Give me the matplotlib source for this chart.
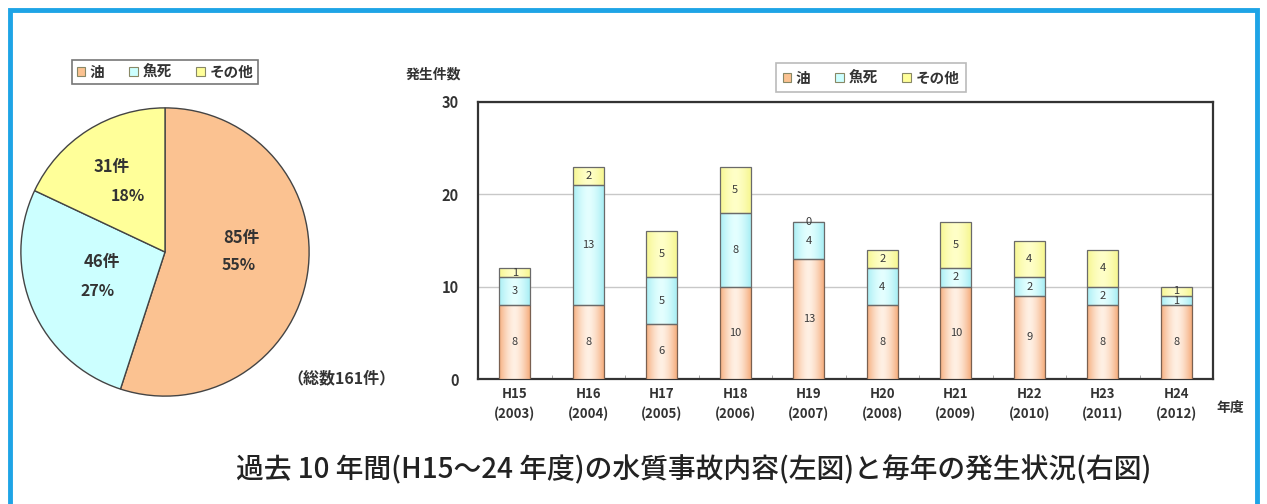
import numpy as np
import matplotlib
matplotlib.use("Agg")
import matplotlib.pyplot as plt
from matplotlib.patches import Patch, Rectangle
from matplotlib.colors import to_rgb

plt.rcParams['font.family'] = ['Noto Sans CJK JP', 'DejaVu Sans']

# --- data -------------------------------------------------------------
pie_labels = ["油", "魚死", "その他"]
pie_counts = [85, 46, 31]
pie_pcts = [55, 27, 18]
total_label = "（総数161件）"

years = ["H15\n(2003)", "H16\n(2004)", "H17\n(2005)", "H18\n(2006)", "H19\n(2007)",
         "H20\n(2008)", "H21\n(2009)", "H22\n(2010)", "H23\n(2011)", "H24\n(2012)"]
oil = [8, 8, 6, 10, 13, 8, 10, 9, 8, 8]
fish = [3, 13, 5, 8, 4, 4, 2, 2, 2, 1]
other = [1, 2, 5, 5, 0, 2, 5, 4, 4, 1]
yticks = [0, 10, 20, 30]

title = "過去 10 年間(H15～24 年度)の水質事故内容(左図)と毎年の発生状況(右図)"

# --- styling ----------------------------------------------------------
c_oil, c_fish, c_other = "#FBC291", "#CCFFFF", "#FFFF99"
txt = "#333333"

W, H = 1267, 504
fig = plt.figure(figsize=(W / 100, H / 100), dpi=100)
fig.patch.set_facecolor("white")

# blue frame around the whole panel
fig.add_artist(Rectangle((10 / W, -0.05), (1257 - 10) / W, 1 - 10 / H + 0.05,
                         transform=fig.transFigure, fill=False,
                         edgecolor="#1EA4E6", linewidth=3.5, clip_on=False))

# --- pie --------------------------------------------------------------
axp = fig.add_axes([18 / W, 1 - 399 / H, 294 / W, 294 / H])
wedges, _ = axp.pie(pie_pcts, colors=[c_oil, c_fish, c_other], startangle=90,
                    counterclock=False,
                    wedgeprops=dict(edgecolor="#444444", linewidth=1.0))
axp.set_xlim(-1.02, 1.02)
axp.set_ylim(-1.02, 1.02)
axp.set_aspect("equal")
axp.axis("off")

pie_text_pos = [((0.53, 0.10), (0.51, -0.09)),
                ((-0.44, -0.07), (-0.47, -0.27)),
                ((-0.37, 0.59), (-0.26, 0.39))]
for (p1, p2), n, p in zip(pie_text_pos, pie_counts, pie_pcts):
    axp.text(*p1, f"{n}件", ha="center", va="center", fontsize=12,
             fontweight="bold", color=txt)
    axp.text(*p2, f"{p}%", ha="center", va="center", fontsize=11.5,
             fontweight="bold", color=txt)

fig.text(341 / W, 1 - 378 / H, total_label, ha="center", va="center",
         fontsize=11.5, color=txt, fontweight="bold")

def legend_handles(cols):
    return [Patch(facecolor=c, edgecolor="#888866", linewidth=0.8) for c in cols]

leg1 = fig.legend(legend_handles([c_oil, c_fish, c_other]), pie_labels, ncol=3,
                  loc="center", bbox_to_anchor=(165 / W, 1 - 72 / H),
                  fontsize=10.5, frameon=True, fancybox=False, edgecolor="#555555",
                  handlelength=0.6, handleheight=0.6, handletextpad=0.3,
                  columnspacing=1.7, borderpad=0.3)
leg1.get_frame().set_linewidth(1.2)
for t in leg1.get_texts():
    t.set_fontweight("bold")
    t.set_color(txt)

# --- stacked bars -------------------------------------------------------
ax = fig.add_axes([478 / W, 1 - 379 / H, (1213 - 478) / W, (379 - 102) / H])
x = np.arange(len(years))
bw = 0.42
oil_a, fish_a, other_a = map(np.array, (oil, fish, other))
b1 = ax.bar(x, oil_a, bw, color=c_oil, edgecolor="#7a6050", linewidth=0.9, zorder=3)
b2 = ax.bar(x, fish_a, bw, bottom=oil_a, color=c_fish, edgecolor="#6a6a6a",
            linewidth=0.9, zorder=3)
b3 = ax.bar(x, other_a, bw, bottom=oil_a + fish_a, color=c_other,
            edgecolor="#6a6a6a", linewidth=0.9, zorder=3)

# horizontal shading inside each bar segment (darker edges, lighter middle)
def shade(bars, edge, centre):
    e, c = np.array(to_rgb(edge)), np.array(to_rgb(centre))
    t = np.linspace(0, 1, 64)
    w = np.abs(2 * t - 1) ** 1.6
    grad = (c[None, :] + (e - c)[None, :] * w[:, None])[None, :, :]
    for r in bars:
        x0, y0 = r.get_x(), r.get_y()
        if r.get_height() <= 0:
            continue
        im = ax.imshow(grad, extent=[x0, x0 + r.get_width(), y0, y0 + r.get_height()],
                       aspect="auto", zorder=3.5, interpolation="bilinear")
        im.set_clip_path(r)
        r.set_zorder(4)
        r.set_facecolor("none")

shade(b1, "#F5AE7E", "#FFF0E4")
shade(b2, "#A8EEF4", "#E4FFFF")
shade(b3, "#F6F690", "#FFFFC8")

for bars in (b1, b2, b3):
    ax.bar_label(bars, label_type="center", fontsize=8, color="#3a3a3a", zorder=5)

ax.set_xlim(-0.5, len(years) - 0.5)
ax.set_ylim(0, 30)
ax.set_yticks(yticks)
ax.set_xticks(x)
ax.set_xticklabels(years, fontsize=9.5, color=txt, fontweight="bold", linespacing=1.5)
ax.tick_params(axis="x", length=0, pad=6)
ax.tick_params(axis="y", length=0, pad=14, labelsize=10.5, labelcolor=txt)
for t in ax.get_yticklabels():
    t.set_fontweight("bold")
ax.set_xticks(x[:-1] + 0.5, minor=True)
ax.tick_params(axis="x", which="minor", direction="in", length=3, color="#999999")
ax.grid(axis="y", color="#c8c8c8", linewidth=1.0, zorder=0)
for s in ax.spines.values():
    s.set_color("#333333")
    s.set_linewidth(1.6)

fig.text(433 / W, 1 - 75 / H, "発生件数", ha="center", va="center",
         fontsize=10, fontweight="bold", color=txt)
fig.text(1230 / W, 1 - 408 / H, "年度", ha="center", va="center",
         fontsize=10, fontweight="bold", color=txt)

leg2 = fig.legend(legend_handles([c_oil, c_fish, c_other]), pie_labels, ncol=3,
                  loc="center", bbox_to_anchor=(871 / W, 1 - 77.5 / H),
                  fontsize=10.5, frameon=True, fancybox=False, edgecolor="#aaaaaa",
                  handlelength=0.6, handleheight=0.6, handletextpad=0.3,
                  columnspacing=1.7, borderpad=0.45)
leg2.get_frame().set_linewidth(1.2)
for t in leg2.get_texts():
    t.set_fontweight("bold")
    t.set_color(txt)

fig.text(694 / W, 1 - 470 / H, title, ha="center", va="center",
         fontsize=20, fontweight="medium", color="#222222")

fig.savefig("out.png", dpi=100, facecolor="white")
